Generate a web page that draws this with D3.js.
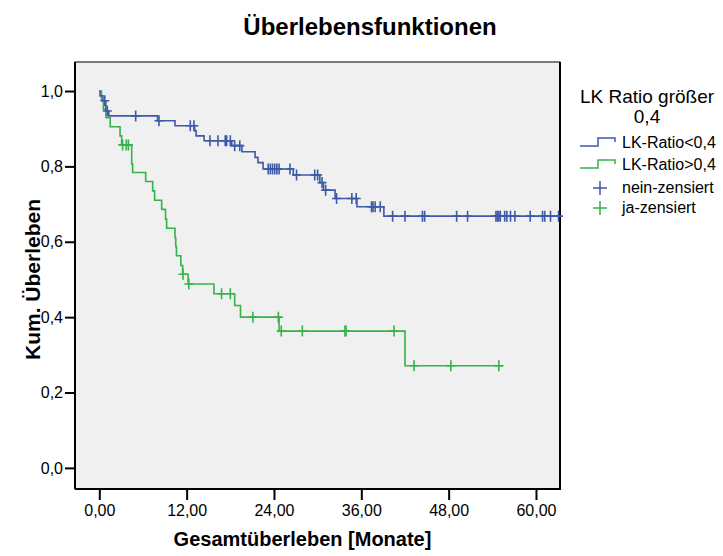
<!DOCTYPE html>
<html>
<head>
<meta charset="utf-8">
<script src="https://cdn.jsdelivr.net/npm/d3@7"></script>
<style>
  body { margin: 0; background: #fff; }
  text { font-family: "Liberation Sans", Arial, sans-serif; }
</style>
</head>
<body>
<svg id="graph" width="723" height="556"></svg>
<script>
  var svg = d3.select("#graph");

  // Kaplan-Meier steps, group LK-Ratio<0,4
  var blueTimes = [0, 0.1, 0.5, 0.9, 1.3, 8.0, 10.4, 13.1, 13.3, 14.4, 18.2, 19.6, 21.4, 21.8, 22.5, 26.65, 30.3, 30.8, 32.4, 35.4, 39.1];
  var blueSurv = [1.0, 0.987, 0.974, 0.947, 0.934, 0.921, 0.908, 0.895, 0.881, 0.868, 0.855, 0.839, 0.824, 0.810, 0.793, 0.777, 0.757, 0.737, 0.715, 0.693, 0.668];
  var blueEnd = 63.1;
  var blueCensor = [0.75, 1.1, 5.0, 8.2, 12.5, 13.0, 15.2, 16.3, 17.3, 17.5, 18.0, 18.6, 19.3, 23.2, 23.5, 23.8, 24.1, 24.4, 24.7,
                    26.2, 27.1, 29.6, 30.0, 30.6, 31.1, 32.6, 34.7, 35.3, 37.4, 37.6, 37.9, 38.6, 40.3, 42.0, 44.4, 44.7,
                    49.1, 50.6, 54.5, 54.7, 54.9, 55.1, 55.7, 56.0, 56.5, 57.1, 59.2, 60.9, 61.2, 62.0, 63.1];

  // group LK-Ratio>0,4
  var greenTimes = [0, 0.3, 0.55, 0.9, 1.5, 2.85, 3.07, 4.45, 4.58, 6.37, 7.33, 7.6, 8.57, 9.1, 9.25, 10.4, 10.5, 10.6, 11.2, 11.45, 12.2, 15.75, 18.6, 19.4, 24.7, 42.0];
  var greenSurv = [1.0, 0.976, 0.952, 0.929, 0.905, 0.881, 0.857, 0.806, 0.784, 0.760, 0.735, 0.710, 0.686, 0.660, 0.636, 0.611, 0.587, 0.563, 0.537, 0.514, 0.488, 0.462, 0.431, 0.400, 0.363, 0.271];
  var greenEnd = 55.5;
  var greenCensor = [3.2, 3.7, 4.0, 11.5, 12.3, 16.8, 18.0, 21.1, 24.6, 25.0, 27.9, 33.75, 33.9, 40.5, 43.25, 48.3, 54.9];

  var xTicks = [0, 12, 24, 36, 48, 60];
  var xTickLabels = ["0,00", "12,00", "24,00", "36,00", "48,00", "60,00"];
  var yTicks = [0, 0.2, 0.4, 0.6, 0.8, 1.0];
  var yTickLabels = ["0,0", "0,2", "0,4", "0,6", "0,8", "1,0"];

  var groupNames = ["LK-Ratio<0,4", "LK-Ratio>0,4"];
  var censorNames = ["nein-zensiert", "ja-zensiert"];
  var colors = ["#3d5aa8", "#35b34a"];

  var plotL = 75, plotR = 560, plotT = 62, plotB = 489;

  var x = d3.scaleLinear().domain([-3.34, 63.3]).range([plotL, plotR]);
  var y = d3.scaleLinear().domain([-0.056, 1.077]).range([plotB, plotT]);

  // plot background + frame
  svg.append("rect")
    .attr("x", plotL).attr("y", plotT)
    .attr("width", plotR - plotL).attr("height", plotB - plotT)
    .attr("fill", "#f0f0f0")
    .attr("stroke", "#000").attr("stroke-width", 1);

  // axes
  var xAxis = svg.append("g")
    .attr("transform", "translate(0," + plotB + ")")
    .call(d3.axisBottom(x).tickValues(xTicks).tickSize(11).tickPadding(5)
      .tickFormat(function(d, i) { return xTickLabels[i]; }));
  var yAxis = svg.append("g")
    .attr("transform", "translate(" + plotL + ",0)")
    .call(d3.axisLeft(y).tickValues(yTicks).tickSize(10).tickPadding(2)
      .tickFormat(function(d, i) { return yTickLabels[i]; }));

  [xAxis, yAxis].forEach(function(a) {
    a.select(".domain").remove();
    a.selectAll("line").attr("stroke", "#000").attr("stroke-width", 2);
    a.selectAll("text").attr("fill", "#000").style("font-size", "16px")
      .style("font-family", "Liberation Sans, Arial, sans-serif");
  });
  // axis lines a bit heavier than the frame
  svg.append("line").attr("x1", plotL).attr("x2", plotL).attr("y1", plotT).attr("y2", plotB)
    .attr("stroke", "#000").attr("stroke-width", 2);
  svg.append("line").attr("x1", plotL).attr("x2", plotR + 1).attr("y1", plotB).attr("y2", plotB)
    .attr("stroke", "#000").attr("stroke-width", 2);
  svg.append("line").attr("x1", plotR).attr("x2", plotR).attr("y1", plotT).attr("y2", plotB)
    .attr("stroke", "#000").attr("stroke-width", 2);

  // titles
  svg.append("text").text("Überlebensfunktionen")
    .attr("x", 370).attr("y", 35)
    .attr("text-anchor", "middle")
    .style("font-weight", "bold").style("font-size", "24px");

  svg.append("text").text("Gesamtüberleben [Monate]")
    .attr("x", (plotL + plotR) / 2 - 15).attr("y", 546)
    .attr("text-anchor", "middle")
    .style("font-weight", "bold").style("font-size", "20px");

  svg.append("text").text("Kum. Überleben")
    .attr("transform", "translate(40," + ((plotT + plotB) / 2 + 4) + ") rotate(-90)")
    .attr("text-anchor", "middle")
    .style("font-weight", "bold").style("font-size", "21px");

  // survival curves
  function stepPoints(times, surv, end) {
    var pts = times.map(function(t, i) { return [t, surv[i]]; });
    pts.push([end, surv[surv.length - 1]]);
    return pts;
  }
  function levelAt(times, surv, t) {
    var i = d3.bisectRight(times, t) - 1;
    return surv[Math.max(i, 0)];
  }

  var line = d3.line()
    .x(function(d) { return x(d[0]); })
    .y(function(d) { return y(d[1]); })
    .curve(d3.curveStepAfter);

  var groups = [
    { times: greenTimes, surv: greenSurv, end: greenEnd, censor: greenCensor, color: colors[1] },
    { times: blueTimes, surv: blueSurv, end: blueEnd, censor: blueCensor, color: colors[0] }
  ];

  groups.forEach(function(g) {
    svg.append("path")
      .datum(stepPoints(g.times, g.surv, g.end))
      .attr("d", line)
      .attr("fill", "none")
      .attr("stroke", g.color)
      .attr("stroke-width", 1.6);

    svg.selectAll(null).data(g.censor).enter().append("path")
      .attr("d", function(t) {
        var cx = x(t), cy = y(levelAt(g.times, g.surv, t));
        return "M" + (cx - 4.5) + "," + cy + "H" + (cx + 4.5) + "M" + cx + "," + (cy - 5.5) + "V" + (cy + 5.5);
      })
      .attr("stroke", g.color)
      .attr("stroke-width", 1.6)
      .attr("fill", "none");
  });

  // legend
  var leg = svg.append("g");
  leg.append("text").text("LK Ratio größer")
    .attr("x", 647).attr("y", 103)
    .attr("text-anchor", "middle").style("font-size", "19px");
  leg.append("text").text("0,4")
    .attr("x", 647).attr("y", 123)
    .attr("text-anchor", "middle").style("font-size", "19px");

  groupNames.forEach(function(name, i) {
    var yy = 146 + i * 22;
    leg.append("path")
      .attr("d", "M580," + yy + "H598V" + (yy - 8) + "H615V" + (yy - 4))
      .attr("fill", "none").attr("stroke", colors[i]).attr("stroke-width", 1.5);
    leg.append("text").text(name)
      .attr("x", 622).attr("y", yy + 2)
      .style("font-size", "16px");
  });
  censorNames.forEach(function(name, i) {
    var yy = 188 + i * 20;
    leg.append("path")
      .attr("d", "M593," + yy + "H607M600," + (yy - 7) + "V" + (yy + 7))
      .attr("fill", "none").attr("stroke", colors[i]).attr("stroke-width", 1.5);
    leg.append("text").text(name)
      .attr("x", 622).attr("y", yy + 5)
      .style("font-size", "16px");
  });
</script>
</body>
</html>
